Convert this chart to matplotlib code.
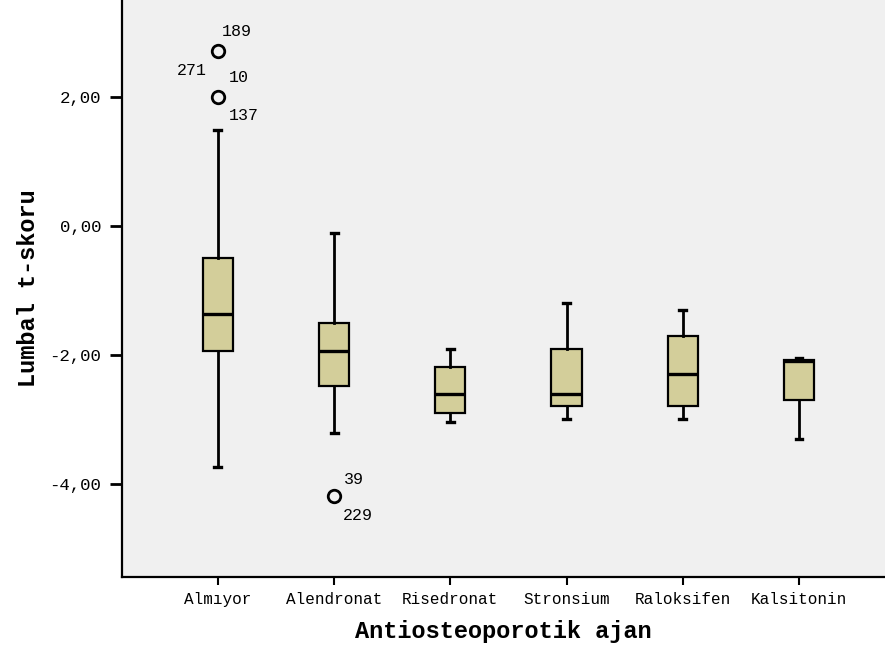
import matplotlib.pyplot as plt

# groups and box statistics
groups = ['Almıyor', 'Alendronat', 'Risedronat', 'Stronsium', 'Raloksifen', 'Kalsitonin']
q1 = [-1.94, -2.48, -2.90, -2.79, -2.79, -2.70]
med = [-1.36, -1.94, -2.60, -2.60, -2.29, -2.09]
q3 = [-0.50, -1.50, -2.19, -1.91, -1.71, -2.08]
whislo = [-3.74, -3.21, -3.04, -2.99, -2.99, -3.30]
whishi = [1.49, -0.11, -1.91, -1.19, -1.30, -2.05]
fliers = [[2.71, 2.00], [-4.19], [], [], [], []]

# outlier case labels: (group index, value, label, dx px, dy px, ha)
outlier_labels = [
    (0, 2.71, '189', 4, 19, 'left'),
    (0, 2.71, '271', -11, -20, 'right'),
    (0, 2.00, '10', 11, 19, 'left'),
    (0, 2.00, '137', 11, -19, 'left'),
    (1, -4.19, '39', 10, 17, 'left'),
    (1, -4.19, '229', 9, -19, 'left'),
]

yticks = [2, 0, -2, -4]
ytick_labels = ['2,00', '0,00', '-2,00', '-4,00']

plt.rcParams['font.family'] = ['Liberation Mono', 'DejaVu Sans Mono']

fig = plt.figure(figsize=(8.85, 6.51), dpi=100)
fig.patch.set_facecolor('white')
ax = fig.add_axes([122 / 885, 74 / 651, 1 - 122 / 885, 1 - 74 / 651])
ax.set_facecolor('#f0f0f0')

stats = []
for i, g in enumerate(groups):
    stats.append(dict(label=g, q1=q1[i], med=med[i], q3=q3[i],
                      whislo=whislo[i], whishi=whishi[i], fliers=fliers[i]))

ax.bxp(stats, positions=range(len(groups)), widths=0.26, patch_artist=True,
       boxprops=dict(facecolor='#d3ce9a', edgecolor='black', linewidth=1.6),
       medianprops=dict(color='black', linewidth=2.4),
       whiskerprops=dict(color='black', linewidth=2.0),
       capprops=dict(color='black', linewidth=2.4),
       capwidths=0.06,
       flierprops=dict(marker='o', markerfacecolor='none', markeredgecolor='black',
                       markeredgewidth=2.0, markersize=9))

for gi, val, txt, dx, dy, ha in outlier_labels:
    ax.annotate(txt, (gi, val), xytext=(dx * 0.72, dy * 0.72), textcoords='offset points',
                ha=ha, va='center', fontsize=12)

ax.set_xlim(-0.825, 5.74)
ax.set_ylim(-5.44, 3.5)
ax.set_yticks(yticks)
ax.set_yticklabels(ytick_labels, fontsize=12.5)
ax.set_xticks(range(len(groups)))
ax.set_xticklabels(groups, fontsize=11.5)
ax.tick_params(axis='y', length=9, width=2, pad=6)
ax.tick_params(axis='x', length=6, width=1.5, pad=5)

for s in ['top', 'right']:
    ax.spines[s].set_visible(False)
for s in ['left', 'bottom']:
    ax.spines[s].set_linewidth(1.6)

ax.set_xlabel('Antiosteoporotik ajan', fontsize=17, fontweight='bold', labelpad=9)
ax.set_ylabel('Lumbal t-skoru', fontsize=17, fontweight='bold', labelpad=7)

fig.savefig('out.png', dpi=100)
